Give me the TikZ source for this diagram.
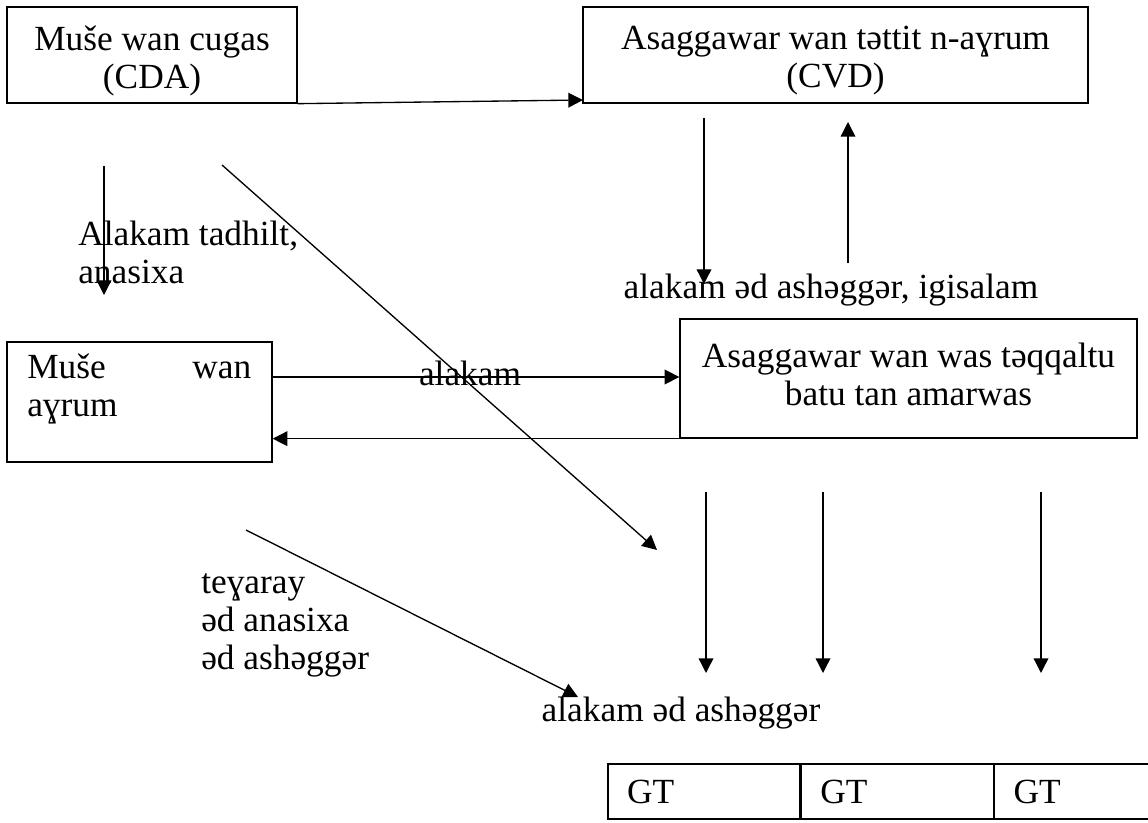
\documentclass[tikz,border=0pt]{standalone}
\usepackage{fontspec}
\setmainfont{Liberation Serif}
\usetikzlibrary{arrows.meta,calc}
\begin{document}
\begin{tikzpicture}[x=0.75pt,y=-0.75pt,
  every node/.style={font=\fontsize{26.5}{28.5}\selectfont, inner sep=0pt},
  box/.style={draw, line width=1pt, rectangle},
  arr/.style={line width=1pt, -{Triangle[length=11pt,width=11pt]}},
  ln/.style={line width=1pt}]
\useasboundingbox (0,0) rectangle (1148,823);

% boxes
\node[box, minimum width=217.5pt, minimum height=72pt] (b1) at (152,55) {};
\node[align=center] (t1) at (152,61) {Muše wan cugas\\(CDA)};
\node[box, minimum width=378.75pt, minimum height=72pt] (b2) at (835.5,55) {};
\node[align=center] (t2) at (835.5,61) {Asaggawar wan təttit n-aɣrum\\(CVD)};
\node[box, minimum width=342.75pt, minimum height=89.25pt] (b4) at (908.5,378.5) {};
\node[align=center] (t4) at (908.5,374) {Asaggawar wan was təqqaltu\\batu tan amarwas};
\node[box, minimum width=198.75pt, minimum height=90pt] (b3) at (139.5,402) {};
\node[anchor=west, text width=168pt, align=left] (t3) at (27,389) {Muše\hfill wan\\aɣrum};

% table
\node[box, minimum width=144pt, minimum height=41.25pt, text width=115.5pt, align=left] (g1) at (704,791.5) {GT};
\node[box, minimum width=144pt, minimum height=41.25pt, text width=115.5pt, align=left, anchor=west] (g2) at (g1.east) {GT};
\node[box, minimum width=144pt, minimum height=41.25pt, text width=115.5pt, align=left, anchor=west] (g3) at (g2.east) {GT};

% labels
\node[anchor=west, align=left] (l1) at (78,252) {Alakam tadhilt,\\anasixa};
\node (l2) at (470,373) {alakam};
\node (l3) at (831,290) {alakam əd ashəggər, igisalam};
\node[anchor=west, align=left] (l4) at (201,625) {teɣaray\\əd anasixa\\əd ashəggər};
\node (l5) at (681,713) {alakam əd ashəggər};

% free ends
\coordinate (b2in) at (583,100);
\coordinate (v1a) at (704,118);
\coordinate (v1b) at (704,284);
\coordinate (v2a) at (848,263);
\coordinate (v2b) at (848,122);
\coordinate (v3a) at (104,166);
\coordinate (v3b) at (104,295);
\coordinate (d1a) at (222,165);
\coordinate (d1b) at (657,550);
\coordinate (d2a) at (246,530);
\coordinate (d2b) at (578,697);
\coordinate (y1) at (0,377);
\coordinate (p1a) at (706,492);
\coordinate (p1b) at (706,673);
\coordinate (p2a) at (823,492);
\coordinate (p2b) at (823,673);
\coordinate (p3a) at (1041,492);
\coordinate (p3b) at (1041,673);

% connectors
\draw[arr] (b1.south east) -- (b2in);
\draw[arr] (v1a) -- (v1b);
\draw[arr] (v2a) -- (v2b);
\draw[arr] (v3a) -- (v3b);
\draw[arr] (d1a) -- (d1b);
\draw[arr] (d2a) -- (d2b);
\draw[arr] (b3.east |- y1) -- (b4.west |- y1);
\draw[arr] (b4.south west) -- (b3.east |- b4.south west);
\draw[arr] (p1a) -- (p1b);
\draw[arr] (p2a) -- (p2b);
\draw[arr] (p3a) -- (p3b);
\end{tikzpicture}
\end{document}
